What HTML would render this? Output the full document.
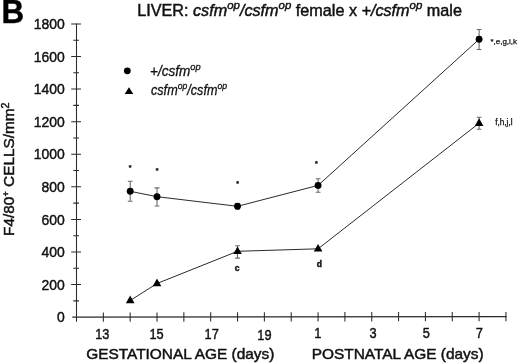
<!DOCTYPE html>
<html><head><meta charset="utf-8"><title>B</title>
<style>
html,body{margin:0;padding:0;background:#fff;}
body{width:520px;height:364px;overflow:hidden;}
svg{display:block;font-family:"Liberation Sans",sans-serif;fill:#111;}
text{stroke:#111;stroke-width:0.45px;}
.sm{stroke-width:0.25px;}
.ax{stroke:#2a2a2a;stroke-width:1.25;fill:none;}
.ln{stroke:#2b2b2b;stroke-width:1.0;fill:none;}
.eb{stroke:#6a6a6a;stroke-width:1.1;fill:none;}
.it{font-style:italic;}
</style></head><body>
<svg width="520" height="364" viewBox="0 0 520 364">
<rect width="520" height="364" fill="#fff"/>
<text transform="translate(1.50,23.40) scale(0.95,1)" font-size="33" text-anchor="start" font-weight="bold" fill="#000">B</text>
<text transform="translate(137.20,15.90) scale(1.039,1)" font-size="15.6" text-anchor="start" >LIVER: <tspan class="it">csfm</tspan><tspan class="it" font-size="11" dy="-6.8">op</tspan><tspan class="it" dy="6.8">/csfm</tspan><tspan class="it" font-size="11" dy="-6.8">op</tspan><tspan dy="6.8"> female x </tspan><tspan class="it">+/csfm</tspan><tspan class="it" font-size="11" dy="-6.8">op</tspan><tspan dy="6.8"> male</tspan></text>
<path class="ax" style="stroke-width:1.05" d="M76.5,23.399999999999977V321.8"/>
<path class="ax" style="stroke-width:1.3" d="M72.3,317.15L506.6,316.54999999999995"/>
<path class="ax" style="stroke-width:1.05" d="M73.3,300.86H79M71.2,284.57H81M73.3,268.27H79M71.2,251.98H81M73.3,235.69H79M71.2,219.40H81M73.3,203.11H79M71.2,186.82H81M73.3,170.52H79M71.2,154.23H81M73.3,137.94H79M71.2,121.65H81M73.3,105.36H79M71.2,89.07H81M73.3,72.78H79M71.2,56.48H81M73.3,40.19H79M71.2,23.90H81M103.34,312.46V321.76M130.18,312.42V321.72M157.02,312.39V321.69M183.86,312.35V321.65M210.70,312.31V321.61M237.54,312.27V321.57M264.38,312.24V321.54M291.22,312.20V321.50M318.06,312.16V321.46M344.90,312.12V321.42M371.74,312.09V321.39M398.58,312.05V321.35M425.42,312.01V321.31M452.26,311.97V321.27M479.10,311.94V321.24M505.94,311.90V321.20"/>
<text transform="translate(64.70,322.35) scale(0.93,1)" font-size="15.0" text-anchor="end" >0</text>
<text transform="translate(64.70,289.77) scale(0.93,1)" font-size="15.0" text-anchor="end" >200</text>
<text transform="translate(64.70,257.18) scale(0.93,1)" font-size="15.0" text-anchor="end" >400</text>
<text transform="translate(64.70,224.60) scale(0.93,1)" font-size="15.0" text-anchor="end" >600</text>
<text transform="translate(64.70,192.02) scale(0.93,1)" font-size="15.0" text-anchor="end" >800</text>
<text transform="translate(64.70,159.43) scale(0.93,1)" font-size="15.0" text-anchor="end" >1000</text>
<text transform="translate(64.70,126.85) scale(0.93,1)" font-size="15.0" text-anchor="end" >1200</text>
<text transform="translate(64.70,94.27) scale(0.93,1)" font-size="15.0" text-anchor="end" >1400</text>
<text transform="translate(64.70,61.68) scale(0.93,1)" font-size="15.0" text-anchor="end" >1600</text>
<text transform="translate(64.70,29.10) scale(0.93,1)" font-size="15.0" text-anchor="end" >1800</text>
<text transform="translate(102.34,338.76) scale(0.875,1)" font-size="14.6" text-anchor="middle" >13</text>
<text transform="translate(156.52,338.67) scale(0.875,1)" font-size="14.6" text-anchor="middle" >15</text>
<text transform="translate(211.70,338.58) scale(0.875,1)" font-size="14.6" text-anchor="middle" >17</text>
<text transform="translate(264.38,340.49) scale(0.875,1)" font-size="14.6" text-anchor="middle" >19</text>
<text transform="translate(317.86,338.41) scale(0.875,1)" font-size="14.6" text-anchor="middle" >1</text>
<text transform="translate(372.94,338.32) scale(0.875,1)" font-size="14.6" text-anchor="middle" >3</text>
<text transform="translate(426.32,338.23) scale(0.875,1)" font-size="14.6" text-anchor="middle" >5</text>
<text transform="translate(479.30,338.14) scale(0.875,1)" font-size="14.6" text-anchor="middle" >7</text>
<text transform="translate(86.20,358.50) scale(1.072,1)" font-size="14.4" text-anchor="start" >GESTATIONAL AGE (days)</text>
<text transform="translate(311.70,358.50) scale(1.072,1)" font-size="14.4" text-anchor="start" >POSTNATAL AGE (days)</text>
<text transform="translate(14.4,235.9) rotate(-90) scale(1.04,1)" font-size="14.8">F4/80<tspan font-size="8.8" dy="-5.5">+</tspan><tspan dy="5.5"> CELLS/mm</tspan><tspan font-size="10.3" dy="-5.5">2</tspan></text>
<circle cx="127.3" cy="70.85" r="3.4" fill="#000"/>
<path d="M129,87.2 l4.3,6.9 h-8.6z" fill="#000"/>
<text transform="translate(150.00,75.70) scale(0.97,1)" font-size="14" text-anchor="start" class="it" style="stroke-width:0.3px">+/csfm<tspan font-size="9.6" dy="-6.2">op</tspan></text>
<text transform="translate(151.00,95.20) scale(0.902,1)" font-size="14" text-anchor="start" class="it" style="stroke-width:0.3px">csfm<tspan font-size="9.6" dy="-6.2">op</tspan><tspan dy="6.2">/csfm</tspan><tspan font-size="9.6" dy="-6.2">op</tspan></text>
<path class="ln" d="M130.2,191.3L157.0,196.7L237.5,206.3L318.1,185.4L479.1,39.3"/>
<path class="ln" d="M130.2,300.5L157.0,283.5L237.5,251.3L318.1,248.8L479.1,123.2"/>
<path class="eb" d="M130.2,181.3V201.3M127.8,181.3h4.8M127.8,201.3h4.8M157.0,187.9V206M154.6,187.9h4.8M154.6,206h4.8M237.5,203.5V209M235.1,203.5h4.8M235.1,209h4.8M318.1,178.8V192.3M315.7,178.8h4.8M315.7,192.3h4.8M479.1,29.5V49.5M476.7,29.5h4.8M476.7,49.5h4.8M237.5,245.8V258.1M235.1,245.8h4.8M235.1,258.1h4.8M479.1,117.3V129.2M476.7,117.3h4.8M476.7,129.2h4.8"/>
<circle cx="130.2" cy="191.3" r="3.45" fill="#000"/>
<circle cx="157.0" cy="196.7" r="3.45" fill="#000"/>
<circle cx="237.5" cy="206.3" r="3.45" fill="#000"/>
<circle cx="318.1" cy="185.4" r="3.45" fill="#000"/>
<circle cx="479.1" cy="39.3" r="3.45" fill="#000"/>
<path d="M130.2,295.6 l4.3,7.7 h-8.6z" fill="#000"/>
<path d="M157.0,278.6 l4.3,7.7 h-8.6z" fill="#000"/>
<path d="M237.5,246.4 l4.3,7.7 h-8.6z" fill="#000"/>
<path d="M318.1,243.9 l4.3,7.7 h-8.6z" fill="#000"/>
<path d="M479.1,118.3 l4.3,7.7 h-8.6z" fill="#000"/>
<text x="130" y="169.89999999999998" font-size="7" font-weight="bold" text-anchor="middle" class="sm">*</text>
<text x="157" y="173.2" font-size="7" font-weight="bold" text-anchor="middle" class="sm">*</text>
<text x="237.5" y="186.2" font-size="7" font-weight="bold" text-anchor="middle" class="sm">*</text>
<text x="316.3" y="166.2" font-size="7" font-weight="bold" text-anchor="middle" class="sm">*</text>
<text x="237.2" y="270.8" font-size="8.5" font-weight="bold" text-anchor="middle">c</text>
<text x="319.4" y="267.2" font-size="8.5" font-weight="bold" text-anchor="middle">d</text>
<text class="sm" x="490.4" y="44" font-size="8">*,e,g,i,k</text>
<text class="sm" x="495.2" y="124.5" font-size="8.2">f,h,j,l</text>
</svg></body></html>
